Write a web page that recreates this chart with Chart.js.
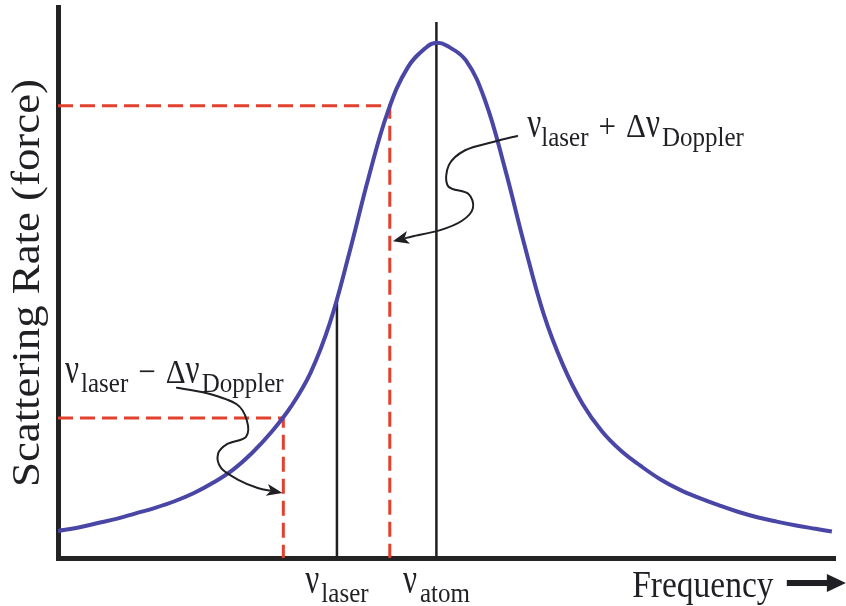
<!DOCTYPE html>
<html>
<head>
<meta charset="utf-8">
<script src="https://cdn.jsdelivr.net/npm/chart.js@4.4.1/dist/chart.umd.min.js"></script>
<style>
  html, body { margin: 0; padding: 0; background: #ffffff; }
  canvas { display: block; }
</style>
</head>
<body>
<canvas id="chart" width="846" height="606"></canvas>
<script>
// Scattering rate (force) versus laser frequency, arbitrary units on both axes
const freq = [0, 2.5, 5, 7.5, 10, 12.5, 15, 17.5, 20, 22.5, 25, 27.5, 30, 32.5, 35, 37.5, 40, 42.5,
              45, 47.5, 48.7, 50, 52.5, 55, 57.5, 60, 62.5, 65, 67.5, 70, 72.5, 75, 77.5, 80, 82.5,
              85, 87.5, 90, 92.5, 95, 97.5, 99.6];
const rate = [4.9, 5.5, 6.3, 7.1, 8.1, 9.1, 10.3, 11.8, 13.7, 16.0, 19.1, 22.9, 27.5, 33.6, 42.7, 55.4,
              69.2, 81.2, 89.0, 92.8, 93.5, 93.0, 90.3, 82.9, 70.8, 57.0, 44.3, 35.0, 28.0, 23.0, 19.4,
              16.7, 14.3, 12.4, 10.9, 9.6, 8.4, 7.4, 6.6, 5.9, 5.3, 4.8];

// Marked frequencies and the rate read at each
const nuLaser = 35.9;          // laser frequency
const rateAtLaser = 47.0;
const nuAtom = 48.7;           // atomic resonance
const atomLineTop = 97.3;
const nuMinusDoppler = 29.0;   // ν_laser − Δν_Doppler
const rateMinusDoppler = 25.4;
const nuPlusDoppler = 42.7;    // ν_laser + Δν_Doppler
const ratePlusDoppler = 82.1;

// Text
const yTitle = 'Scattering Rate (force)';
const xTitle = 'Frequency';

const CURVE = '#4a46a6';
const RED = '#e2412e';
const INK = '#1f1f24';
const SERIF = '"Liberation Serif", "Times New Roman", Times, serif';

function drawRuns(ctx, x, y, parts, align) {
  const widths = parts.map(p => { ctx.font = p.size + 'px ' + SERIF; return ctx.measureText(p.t).width; });
  const total = parts.reduce((s, p, i) => s + (p.gap || 0) + widths[i], 0);
  let cx = align === 'center' ? x - total / 2 : x;
  parts.forEach((p, i) => {
    cx += p.gap || 0;
    ctx.save();
    ctx.font = p.size + 'px ' + SERIF;
    ctx.fillStyle = INK;
    ctx.textAlign = 'left';
    ctx.textBaseline = 'alphabetic';
    ctx.translate(cx, y + (p.dy || 0));
    ctx.scale(1, p.sy || 1.12);
    ctx.fillText(p.t, 0, 0);
    ctx.restore();
    cx += widths[i];
  });
}

const nu = (gap) => ({ t: 'ν', size: 31, sy: 1.4, gap: gap || 0 });
const sub = (t, gap) => ({ t, size: 25, dy: 9, gap: gap || 0 });
const sym = (t, gap) => ({ t, size: 31, gap: gap || 0 });

function smoothPath(ctx, pts) {
  ctx.moveTo(pts[0][0], pts[0][1]);
  for (let i = 0; i < pts.length - 1; i++) {
    const p0 = pts[i - 1] || pts[i], p1 = pts[i], p2 = pts[i + 1], p3 = pts[i + 2] || p2;
    ctx.bezierCurveTo(
      p1[0] + (p2[0] - p0[0]) / 6, p1[1] + (p2[1] - p0[1]) / 6,
      p2[0] - (p3[0] - p1[0]) / 6, p2[1] - (p3[1] - p1[1]) / 6,
      p2[0], p2[1]);
  }
}

function curlyArrow(ctx, pts, headLen, headHalf) {
  const n = pts.length;
  const tip = pts[n - 1], prev = pts[n - 2];
  const ang = Math.atan2(tip[1] - prev[1], tip[0] - prev[0]);
  const base = [tip[0] - Math.cos(ang) * headLen * 0.8, tip[1] - Math.sin(ang) * headLen * 0.8];
  const body = pts.slice(0, n - 1).concat([base]);
  ctx.save();
  ctx.strokeStyle = INK;
  ctx.fillStyle = INK;
  ctx.lineWidth = 2;
  ctx.lineCap = 'round';
  ctx.beginPath();
  smoothPath(ctx, body);
  ctx.stroke();
  ctx.beginPath();
  ctx.moveTo(tip[0], tip[1]);
  ctx.lineTo(tip[0] - Math.cos(ang) * headLen - Math.sin(ang) * headHalf,
             tip[1] - Math.sin(ang) * headLen + Math.cos(ang) * headHalf);
  ctx.lineTo(tip[0] - Math.cos(ang) * headLen * 0.75, tip[1] - Math.sin(ang) * headLen * 0.75);
  ctx.lineTo(tip[0] - Math.cos(ang) * headLen + Math.sin(ang) * headHalf,
             tip[1] - Math.sin(ang) * headLen - Math.cos(ang) * headHalf);
  ctx.closePath();
  ctx.fill();
  ctx.restore();
}

const annotations = {
  id: 'annotations',
  afterDraw(chart) {
    const ctx = chart.ctx;
    const xs = chart.scales.x, ys = chart.scales.y;
    const P = (x, y) => [xs.getPixelForValue(x), ys.getPixelForValue(y)];

    // y axis title, rotated
    const yt = P(-2.5, 49.9);
    ctx.save();
    ctx.font = '40px ' + SERIF;
    ctx.fillStyle = INK;
    ctx.textAlign = 'center';
    ctx.textBaseline = 'alphabetic';
    ctx.translate(yt[0], yt[1]);
    ctx.scale(1, 1.12);
    ctx.rotate(-Math.PI / 2);
    ctx.fillText(yTitle, 0, 0);
    ctx.restore();

    // x axis title with arrow
    const xt = P(73.9, -7.08);
    drawRuns(ctx, xt[0], xt[1], [{ t: xTitle, size: 33.5 }], 'left');
    const a0 = P(93.8, -4.54), a1 = P(101.4, -4.54);
    ctx.save();
    ctx.fillStyle = INK;
    ctx.fillRect(a0[0], a0[1] - 3, a1[0] - a0[0] - 14, 6);
    ctx.beginPath();
    ctx.moveTo(a1[0], a1[1]);
    ctx.lineTo(a1[0] - 19, a1[1] - 9);
    ctx.lineTo(a1[0] - 19, a1[1] + 9);
    ctx.closePath();
    ctx.fill();
    ctx.restore();

    // frequency labels under the axis
    const lbY = ys.getPixelForValue(-6.35);
    drawRuns(ctx, xs.getPixelForValue(nuLaser), lbY, [nu(), sub('laser', 2)], 'center');
    drawRuns(ctx, xs.getPixelForValue(nuAtom), lbY, [nu(), sub('atom', 3)], 'center');

    // Doppler-shifted labels
    const up = P(60.4, 76.4);
    drawRuns(ctx, up[0], up[1], [nu(), sub('laser'), sym('+', 10), sym('Δ', 10), nu(), sub('Doppler', 2)], 'left');
    const lo = P(0.9, 31.8);
    drawRuns(ctx, lo[0], lo[1], [nu(), sub('laser', 2), sym('−', 10), sym('Δ', 10), nu(), sub('Doppler', 2)], 'left');

    // curly pointers from the labels to the shifted frequencies
    curlyArrow(ctx, [
      [59.1, 76.6], [56.0, 75.5], [52.4, 74.0], [50.3, 71.3], [50.2, 67.5], [52.8, 66.1],
      [53.4, 63.5], [52.0, 61.2], [49.2, 59.5], [45.7, 58.4], [43.1, 57.5]
    ].map(p => P(p[0], p[1])), 16, 6.5);
    curlyArrow(ctx, [
      [15.3, 30.9], [19.2, 29.9], [23.0, 27.9], [24.3, 25.0], [24.2, 22.0], [21.8, 20.7],
      [20.6, 18.9], [21.0, 16.3], [23.2, 14.2], [25.7, 12.7], [28.9, 11.8]
    ].map(p => P(p[0], p[1])), 16, 6);
  }
};

const pts = (xArr, yArr) => xArr.map((x, i) => ({ x, y: yArr[i] }));

new Chart(document.getElementById('chart'), {
  type: 'line',
  data: {
    datasets: [
      {
        label: 'Scattering rate',
        data: pts(freq, rate),
        borderColor: CURVE,
        borderWidth: 4,
        pointRadius: 0,
        tension: 0.4,
        order: 0
      },
      {
        label: 'ν laser',
        data: pts([nuLaser, nuLaser], [0, rateAtLaser]),
        borderColor: INK,
        borderWidth: 2.5,
        pointRadius: 0,
        order: 2
      },
      {
        label: 'ν atom',
        data: pts([nuAtom, nuAtom], [0, atomLineTop]),
        borderColor: INK,
        borderWidth: 2.5,
        pointRadius: 0,
        order: 2
      },
      {
        label: 'ν laser + Δν Doppler',
        data: pts([0, nuPlusDoppler, nuPlusDoppler], [ratePlusDoppler, ratePlusDoppler, 0]),
        borderColor: RED,
        borderWidth: 3,
        borderDash: [15, 7],
        pointRadius: 0,
        order: 1
      },
      {
        label: 'ν laser − Δν Doppler',
        data: pts([0, nuMinusDoppler, nuMinusDoppler], [rateMinusDoppler, rateMinusDoppler, 0]),
        borderColor: RED,
        borderWidth: 3,
        borderDash: [15, 7],
        pointRadius: 0,
        order: 1
      }
    ]
  },
  options: {
    responsive: false,
    animation: false,
    events: [],
    layout: { padding: { left: 58, top: 7, right: 11, bottom: 48 } },
    plugins: { legend: { display: false }, tooltip: { enabled: false } },
    scales: {
      x: {
        type: 'linear', min: 0, max: 100,
        grid: { display: false, drawTicks: false },
        ticks: { display: false },
        border: { display: true, width: 5, color: '#232323' }
      },
      y: {
        type: 'linear', min: 0, max: 100,
        grid: { display: false, drawTicks: false },
        ticks: { display: false },
        border: { display: true, width: 5, color: '#232323' }
      }
    }
  },
  plugins: [annotations]
});
</script>
</body>
</html>
